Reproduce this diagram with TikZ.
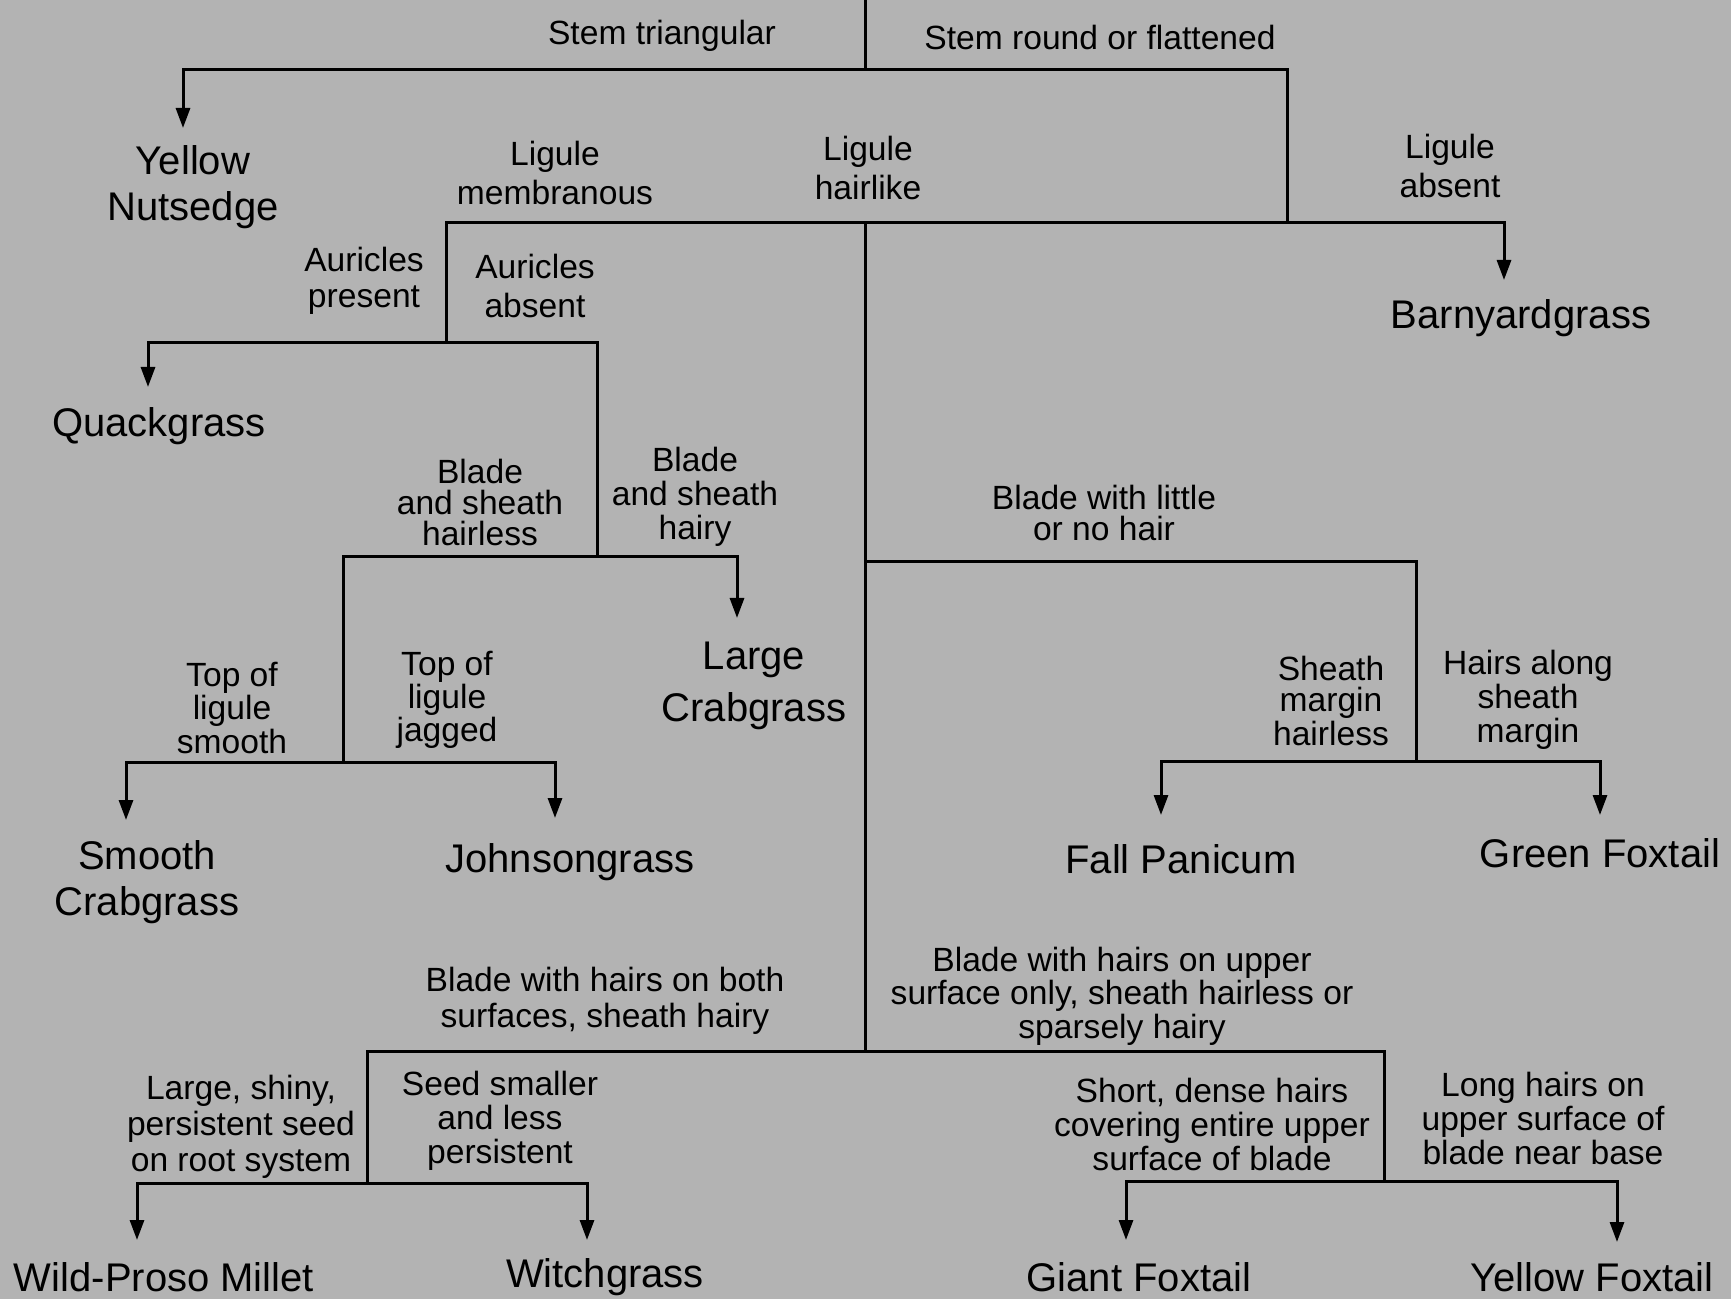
\documentclass[tikz,border=0pt]{standalone}
\usepackage{fontspec}
\setmainfont{Liberation Sans}
\usetikzlibrary{arrows.meta}
\definecolor{bg}{RGB}{179,179,179}
\begin{document}
\begin{tikzpicture}[x=0.5pt,y=-0.5pt,
  conn/.style={line width=1.5pt},
  arr/.style={line width=1.5pt,-{Triangle[length=10pt,width=7pt]}},
  lbl/.style={font=\fontsize{16.8}{15.5}\selectfont, align=center, inner sep=0pt},
  widelbl/.style={font=\fontsize{16.8}{19.5}\selectfont, align=center, inner sep=0pt},
  leaf/.style={font=\fontsize{20}{23}\selectfont, align=center, inner sep=0pt}]
\fill[bg] (0,0) rectangle (1731,1299);
\useasboundingbox (0,0) rectangle (1731,1299);

% junction coordinates
\coordinate (r0) at (865,0);
\coordinate (r1) at (865,70);
\coordinate (j2) at (1287,223);
\coordinate (c2) at (865,223);
\coordinate (cm) at (865,562);
\coordinate (c3) at (865,1051);
\coordinate (jL) at (446,343);
\coordinate (jA) at (597,557);
\coordinate (jT) at (343,762);
\coordinate (jR) at (1416,761);
\coordinate (jB1) at (367,1183);
\coordinate (jB2) at (1384,1181);
% arrow tips
\coordinate (tipYN) at (183,128);
\coordinate (tipBY) at (1504,280);
\coordinate (tipQ) at (148,387);
\coordinate (tipLC) at (737,618);
\coordinate (tipSC) at (126,820);
\coordinate (tipJG) at (555,818);
\coordinate (tipFP) at (1161,815);
\coordinate (tipGF) at (1600,815);
\coordinate (tipWP) at (137,1240);
\coordinate (tipWG) at (587,1240);
\coordinate (tipGi) at (1126,1240);
\coordinate (tipYF) at (1617,1242);

% connectors
\draw[conn] (r0) -- (r1);
\draw[arr] (r1) -| (tipYN);
\draw[conn] (r1) -| (j2);
\draw[arr] (j2) -| (tipBY);
\draw[conn] (j2) -| (jL);
\draw[conn] (c2) -- (c3);
\draw[arr] (jL) -| (tipQ);
\draw[conn] (jL) -| (jA);
\draw[arr] (jA) -| (tipLC);
\draw[conn] (jA) -| (jT);
\draw[arr] (jT) -| (tipSC);
\draw[arr] (jT) -| (tipJG);
\draw[conn] (cm) -| (jR);
\draw[arr] (jR) -| (tipFP);
\draw[arr] (jR) -| (tipGF);
\draw[conn] (c3) -| (jB1);
\draw[conn] (c3) -| (jB2);
\draw[arr] (jB1) -| (tipWP);
\draw[arr] (jB1) -| (tipWG);
\draw[arr] (jB2) -| (tipGi);
\draw[arr] (jB2) -| (tipYF);

% decision labels
\node[lbl] (l1) at (662,36) {Stem triangular};
\node[lbl] (l2) at (1100,37) {Stem round or flattened};
\node[widelbl] (l3) at (555,173) {Ligule\\membranous};
\node[widelbl] (l4) at (868,168) {Ligule\\hairlike};
\node[widelbl] (l5) at (1450,166) {Ligule\\absent};
\node[widelbl, font=\fontsize{16.8}{18}\selectfont] (l6) at (364,281) {Auricles\\present};
\node[widelbl] (l7) at (535,286) {Auricles\\absent};
\node[lbl] (l8) at (480,502) {Blade\\and sheath\\hairless};
\node[lbl, font=\fontsize{16.8}{17}\selectfont] (l9) at (695,497) {Blade\\and sheath\\hairy};
\node[lbl] (l10) at (232,708) {Top of\\ligule\\smooth};
\node[lbl] (l11) at (447,700) {Top of\\ligule\\jagged};
\node[lbl] (l12) at (1104,513) {Blade with little\\or no hair};
\node[lbl] (l13) at (1331,701) {Sheath\\margin\\hairless};
\node[lbl, font=\fontsize{16.8}{17}\selectfont] (l14) at (1528,700) {Hairs along\\sheath\\margin};
\node[lbl, font=\fontsize{16.8}{18}\selectfont] (l15) at (605,1001) {Blade with hairs on both\\surfaces, sheath hairy};
\node[lbl, font=\fontsize{16.8}{15}\selectfont] (l16) at (1122,996) {Blade with hairs on upper\\surface only, sheath hairless or\\sparsely hairy};
\node[lbl, font=\fontsize{16.8}{18}\selectfont] (l17) at (241,1127) {Large, shiny,\\persistent seed\\on root system};
\node[lbl, font=\fontsize{16.8}{17}\selectfont] (l18) at (500,1121) {Seed smaller\\and less\\persistent};
\node[lbl, font=\fontsize{16.8}{17}\selectfont] (l19) at (1212,1124) {Short, dense hairs\\covering entire upper\\surface of blade};
\node[lbl, font=\fontsize{16.8}{17}\selectfont] (l20) at (1543,1118) {Long hairs on\\upper surface of\\blade near base};

% species
\node[leaf] (yn) at (193,187) {Yellow\\Nutsedge};
\node[leaf] (by) at (1521,318) {Barnyardgrass};
\node[leaf] (qg) at (159,426) {Quackgrass};
\node[leaf, font=\fontsize{20}{26}\selectfont] (lc) at (754,686) {Large\\Crabgrass};
\node[leaf] (sc) at (147,882) {Smooth\\Crabgrass};
\node[leaf] (jg) at (570,862) {Johnsongrass};
\node[leaf] (fp) at (1181,859) {Fall Panicum};
\node[leaf] (gf) at (1600,853) {Green Foxtail};
\node[leaf] (wp) at (164,1277) {Wild-Proso Millet};
\node[leaf] (wg) at (605,1277) {Witchgrass};
\node[leaf] (gi) at (1139,1277) {Giant Foxtail};
\node[leaf] (yf) at (1592,1277) {Yellow Foxtail};
\end{tikzpicture}
\end{document}
